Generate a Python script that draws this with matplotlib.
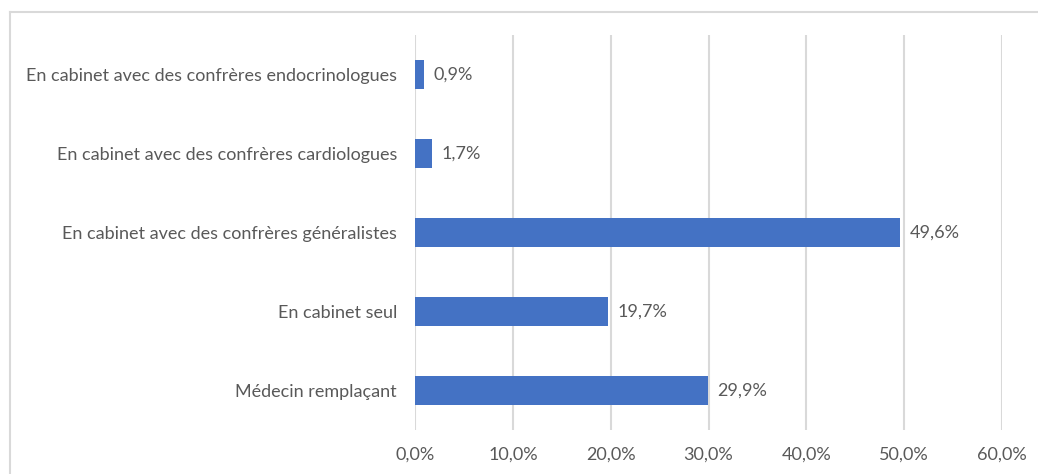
import matplotlib.pyplot as plt
from matplotlib.lines import Line2D

# Data
categories = ['Médecin remplaçant',
              'En cabinet seul',
              'En cabinet avec des confrères généralistes',
              'En cabinet avec des confrères cardiologues',
              'En cabinet avec des confrères endocrinologues']
values = [29.9, 19.7, 49.6, 1.7, 0.9]
xticks = [0, 10, 20, 30, 40, 50, 60]

bar_color = '#4472C4'
text_color = '#595959'
grid_color = '#D9D9D9'

plt.rcParams['font.family'] = ['Lato', 'DejaVu Sans']

W, H = 1038, 474
fig = plt.figure(figsize=(W / 100, H / 100), dpi=100)
ax = fig.add_axes([415 / W, 1 - 430 / H, (1002 - 415) / W, (430 - 35) / H])

y = range(len(categories))
ax.barh(y, values, height=0.355, color=bar_color, zorder=3)

# Value labels next to each bar
for yi, v in zip(y, values):
    ax.text(v + 1.0, yi, f'{v:.1f}%'.replace('.', ','), va='center', ha='left',
            fontsize=13, color=text_color)

ax.set_xlim(0, 60)
ax.set_ylim(-0.5, len(categories) - 0.5)
ax.set_xticks(xticks)
ax.set_xticklabels([f'{t:.1f}%'.replace('.', ',') for t in xticks])
ax.set_yticks(list(y))
ax.set_yticklabels(categories)

ax.tick_params(axis='x', length=0, pad=12, labelsize=13, labelcolor=text_color)
ax.tick_params(axis='y', length=0, pad=13, labelsize=13, labelcolor=text_color)

ax.grid(axis='x', color=grid_color, linewidth=1.5, zorder=0)
for s in ax.spines.values():
    s.set_visible(False)

# Chart border (top and left visible within image)
fig.add_artist(Line2D([10 / W, 1], [1 - 12 / H, 1 - 12 / H], color=grid_color, linewidth=1.5))
fig.add_artist(Line2D([10 / W, 10 / W], [0, 1 - 12 / H], color=grid_color, linewidth=1.5))

fig.savefig('out.png', dpi=100, facecolor='white')
